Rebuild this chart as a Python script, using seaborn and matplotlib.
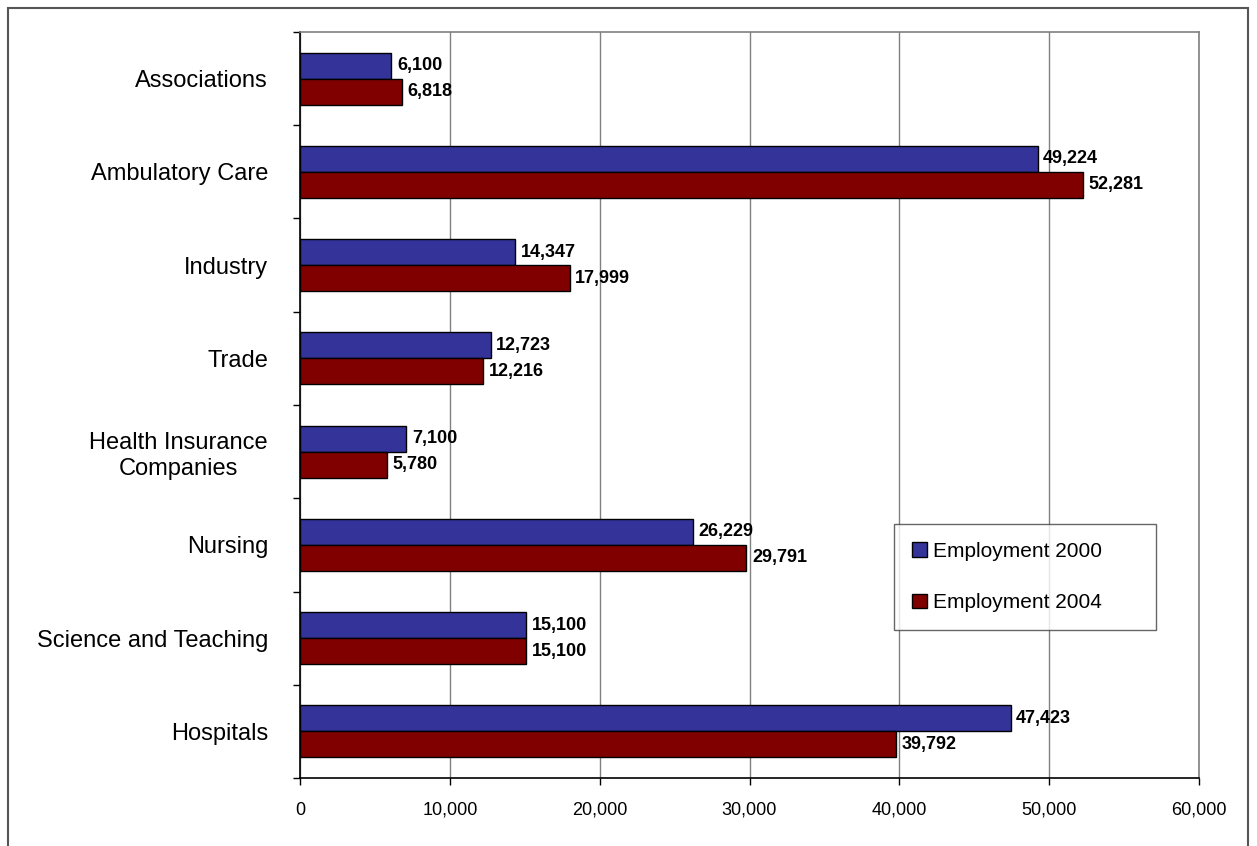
import numpy as np
import pandas as pd
import matplotlib
matplotlib.use("Agg")
import matplotlib.pyplot as plt
import seaborn as sns
from matplotlib.patches import Rectangle
from matplotlib.ticker import FuncFormatter, FixedLocator

# Data
sectors = ["Associations", "Ambulatory Care", "Industry", "Trade",
           "Health Insurance\nCompanies", "Nursing", "Science and Teaching", "Hospitals"]
employment_2000 = [6100, 49224, 14347, 12723, 7100, 26229, 15100, 47423]
employment_2004 = [6818, 52281, 17999, 12216, 5780, 29791, 15100, 39792]
series_names = ["Employment 2000", "Employment 2004"]
x_ticks = [0, 10000, 20000, 30000, 40000, 50000, 60000]

df = pd.DataFrame({
    "sector": sectors * 2,
    "employment": employment_2000 + employment_2004,
    "series": [series_names[0]] * len(sectors) + [series_names[1]] * len(sectors),
})

sns.set_style("white")
plt.rcParams["font.family"] = ["Liberation Sans", "DejaVu Sans"]
plt.rcParams["text.color"] = "black"
plt.rcParams["xtick.color"] = "black"
plt.rcParams["ytick.color"] = "black"
plt.rcParams["axes.labelcolor"] = "black"

fig = plt.figure(figsize=(12.57, 8.46), dpi=100)
ax = fig.add_axes([300 / 1257, 1 - 778 / 846, 899 / 1257, 746 / 846])

sns.barplot(data=df, y="sector", x="employment", hue="series", order=sectors,
            hue_order=series_names, palette=["#333399", "#800000"], width=0.56,
            edgecolor="black", linewidth=1, saturation=1, ax=ax, legend=True)

# value labels
for cont in ax.containers:
    ax.bar_label(cont, fmt="{:,.0f}", padding=4, fontsize=13, fontweight="bold",
                 color="black")

# axes styling
ax.set_xlim(0, 60000)
ax.set_ylim(len(sectors) - 0.5, -0.5)
ax.set_xticks(x_ticks)
ax.xaxis.set_major_formatter(FuncFormatter(lambda v, p: f"{v:,.0f}"))
ax.tick_params(axis="x", direction="out", length=5, width=1, color="black",
               labelsize=13, pad=12, bottom=True, labelcolor="black")
ax.tick_params(axis="y", which="major", length=0, labelsize=17, pad=23,
               labelcolor="black")
ax.yaxis.set_minor_locator(FixedLocator(np.arange(-0.5, len(sectors) + 0.5, 1)))
ax.tick_params(axis="y", which="minor", direction="out", length=5, width=1,
               color="black", left=True)
for lab in ax.get_yticklabels():
    lab.set_multialignment("center")
ax.set_xlabel("")
ax.set_ylabel("")

ax.grid(axis="x", color="#808080", linewidth=1)
ax.set_axisbelow(True)
ax.spines["left"].set_color("black")
ax.spines["bottom"].set_color("black")
ax.spines["top"].set_color("#808080")
ax.spines["right"].set_color("#808080")
for s in ax.spines.values():
    s.set_linewidth(1.2)

leg = ax.legend(loc="upper left", bbox_to_anchor=(0.661, 0.201, 0.291, 0.139),
                mode="expand", borderaxespad=0,
                fontsize=15, frameon=True, fancybox=False, edgecolor="#404040",
                handlelength=0.7, handleheight=0.7, handletextpad=0.3,
                labelspacing=1.55, borderpad=0.85)
leg.get_frame().set_linewidth(1)
for h in leg.legend_handles:
    h.set_edgecolor("black")
for t in leg.get_texts():
    t.set_color("black")

# outer chart frame
fig.patches.append(Rectangle((8 / 1257, -0.1), 1240 / 1257, 1.1 - 8 / 846,
                             transform=fig.transFigure, fill=False,
                             edgecolor="#555555", linewidth=1.5))

fig.savefig("out.png", dpi=100)
